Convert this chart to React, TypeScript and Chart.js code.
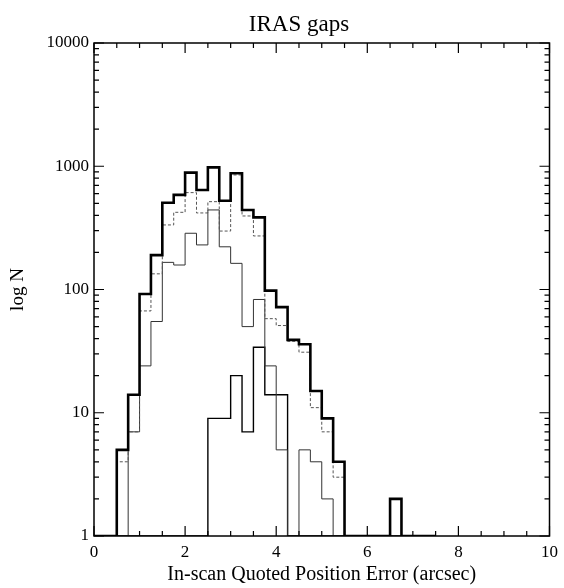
import React, { useEffect, useRef } from 'react';
import { Chart, registerables } from 'chart.js';

Chart.register(...registerables);

// Histogram bin left edges (bin width 0.25 arcsec)
const binStarts = [
  0, 0.25, 0.5, 0.75, 1.0, 1.25, 1.5, 1.75, 2.0, 2.25,
  2.5, 2.75, 3.0, 3.25, 3.5, 3.75, 4.0, 4.25, 4.5, 4.75,
  5.0, 5.25, 5.5, 5.75, 6.0, 6.25, 6.5, 6.75, 7.0, 7.25,
];
const binEnd = 7.5;

// Counts per bin (1 = empty bin, drawn on the log-axis floor)
const totalCounts = [
  1, 1, 5, 14, 92, 190, 505, 586, 887, 641,
  980, 525, 877, 442, 385, 98, 72, 39, 36, 15,
  9, 4, 1, 1, 1, 1, 2, 1, 1, 1,
];
const dashedCounts = [
  1, 1, 4, 7, 67, 134, 334, 423, 611, 418,
  516, 298, 850, 395, 272, 58, 51, 38, 31, 11,
  7, 3, 1, 1, 1, 1, 1, 1, 1, 1,
];
const thinCounts = [
  1, 1, 1, 7, 24, 55, 166, 158, 286, 230,
  442, 222, 163, 50, 83, 24, 5, 1, 5, 4,
  2, 1, 1, 1, 1, 1, 1, 1, 1, 1,
];
const lowCounts = [
  1, 1, 1, 1, 1, 1, 1, 1, 1, 1,
  9, 9, 20, 7, 34, 14, 14, 1, 1, 1,
  1, 1, 1, 1, 1, 1, 1, 1, 1, 1,
];

const xTickValues = [0, 2, 4, 6, 8, 10];
const yTickValues = [1, 10, 100, 1000, 10000];
const xMinorStep = 0.5;

const titleText = 'IRAS gaps';
const xTitle = 'In-scan Quoted Position Error (arcsec)';
const yTitle = 'log N';

const FONT = '"Liberation Serif", "DejaVu Serif", serif';

function stepData(values: number[]) {
  const pts = binStarts.map((x, i) => ({ x, y: values[i] }));
  pts.push({ x: binEnd, y: values[values.length - 1] });
  return pts;
}

const frameAndTicks = {
  id: 'frameAndTicks',
  afterDraw(chart: any) {
    const { ctx, chartArea } = chart;
    const xs = chart.scales.x;
    const ys = chart.scales.y;
    const { left, right, top, bottom } = chartArea;
    ctx.save();
    ctx.strokeStyle = '#000';
    ctx.lineWidth = 1.5;
    ctx.strokeRect(left, top, right - left, bottom - top);
    ctx.lineWidth = 1.2;
    ctx.beginPath();
    for (let v = xs.min; v <= xs.max + 1e-9; v += xMinorStep) {
      const px = xs.getPixelForValue(v);
      const major = Math.abs(v / 2 - Math.round(v / 2)) < 1e-6;
      const len = major ? 10 : 5;
      ctx.moveTo(px, bottom);
      ctx.lineTo(px, bottom - len);
      ctx.moveTo(px, top);
      ctx.lineTo(px, top + len);
    }
    for (let d = 1; d <= 10000; d *= 10) {
      for (let m = 1; m <= 9; m++) {
        const v = d * m;
        if (v > 10000) break;
        const py = ys.getPixelForValue(v);
        const len = m === 1 ? 10 : 5;
        ctx.moveTo(left, py);
        ctx.lineTo(left + len, py);
        ctx.moveTo(right, py);
        ctx.lineTo(right - len, py);
      }
    }
    ctx.stroke();
    ctx.fillStyle = '#000';
    ctx.font = `23px ${FONT}`;
    ctx.textAlign = 'center';
    ctx.textBaseline = 'alphabetic';
    ctx.fillText(titleText, left + (right - left) * 0.45, 31);
    ctx.restore();
  },
};

export default function App() {
  const ref = useRef<HTMLCanvasElement | null>(null);

  useEffect(() => {
    if (!ref.current) return;
    const common = { stepped: 'before', pointRadius: 0, fill: false };
    const chart = new Chart(ref.current, {
      type: 'line',
      data: {
        datasets: [
          { ...common, label: 'total', data: stepData(totalCounts), borderColor: '#000', borderWidth: 2.6 },
          { ...common, label: 'dashed', data: stepData(dashedCounts), borderColor: '#555', borderWidth: 1, borderDash: [3, 2] },
          { ...common, label: 'thin', data: stepData(thinCounts), borderColor: '#333', borderWidth: 1 },
          { ...common, label: 'low', data: stepData(lowCounts), borderColor: '#000', borderWidth: 1.4 },
        ],
      },
      options: {
        animation: false,
        responsive: false,
        devicePixelRatio: 1,
        layout: { padding: { top: 43, right: 14, left: 0, bottom: 0 } },
        plugins: {
          legend: { display: false },
          tooltip: { enabled: false },
          title: { display: false },
        },
        scales: {
          x: {
            type: 'linear',
            min: 0,
            max: 10,
            afterBuildTicks: (s: any) => {
              s.ticks = xTickValues.map((v) => ({ value: v }));
            },
            afterFit: (s: any) => {
              s.height = 52;
            },
            ticks: {
              color: '#000',
              font: { family: FONT, size: 17 },
              padding: 6,
              maxRotation: 0,
              autoSkip: false,
              callback: (v: any) => String(v),
            },
            grid: { display: false, drawTicks: false },
            border: { display: false },
            title: {
              display: true,
              text: xTitle,
              color: '#000',
              font: { family: FONT, size: 20 },
              padding: { top: 0, bottom: 1 },
            },
          },
          y: {
            type: 'logarithmic',
            min: 1,
            max: 10000,
            afterBuildTicks: (s: any) => {
              s.ticks = yTickValues.map((v) => ({ value: v }));
            },
            afterFit: (s: any) => {
              s.width = 94;
            },
            ticks: {
              color: '#000',
              font: { family: FONT, size: 17 },
              padding: 5,
              autoSkip: false,
              callback: (v: any) => String(v),
            },
            grid: { display: false, drawTicks: false },
            border: { display: false },
            title: {
              display: true,
              text: yTitle,
              color: '#000',
              font: { family: FONT, size: 19 },
              padding: { top: 7, bottom: 0 },
            },
          },
        },
      },
      plugins: [frameAndTicks],
    } as any);
    return () => chart.destroy();
  }, []);

  return (
    <div style={{ position: 'fixed', left: 0, top: 0, width: 564, height: 588, background: '#fff' }}>
      <canvas ref={ref} width={564} height={588} style={{ display: 'block' }} />
    </div>
  );
}
